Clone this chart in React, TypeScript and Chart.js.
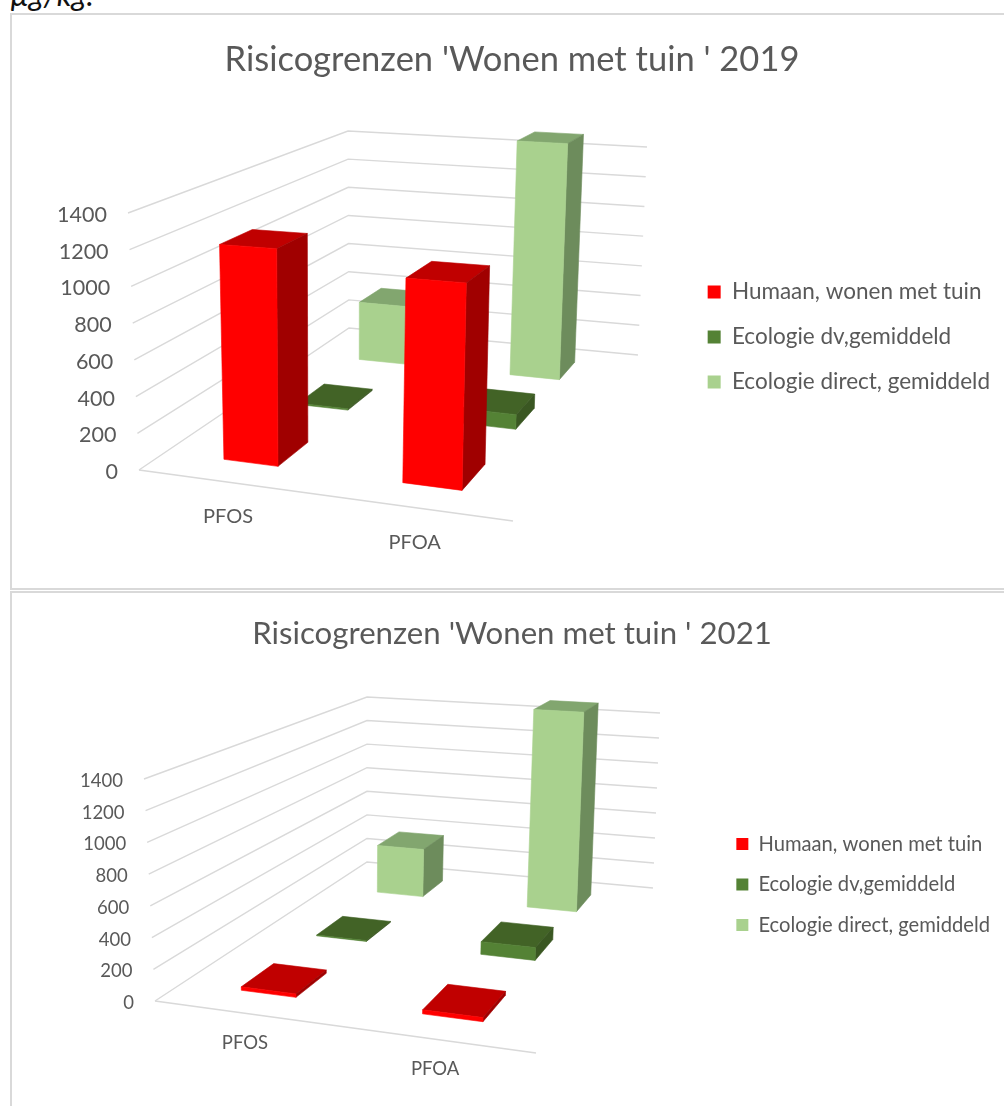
import React, { useEffect, useRef } from "react";
import { Chart, registerables, BarController } from "chart.js";

Chart.register(...registerables);

const categories = ["PFOS", "PFOA"];
const seriesNames = ["Humaan, wonen met tuin", "Ecologie dv,gemiddeld", "Ecologie direct, gemiddeld"];

const humaan2019 = [1190, 1085];
const ecoDv2019 = [8, 85];
const ecoDirect2019 = [380, 1510];

const humaan2021 = [22, 25];
const ecoDv2021 = [6, 87];
const ecoDirect2021 = [368, 1508];

const axisMax = 1400;
const axisStep = 200;

const seriesColors = ["#FF0000", "#548235", "#A9D18E"];
const topColors = ["#C00000", "#426326", "#82A66F"];
const sideColors = ["#A00000", "#3A5722", "#6D8C5C"];

type P = [number, number];
type Box = { floor: P[]; top: P[]; labelDy: number; tickGap: number; tickDy: number; tickFont: number; catFont: number };

// Perspective frame of each chart: corners FL, FR, BR, BL in canvas pixels
const frame2019: Box = {
  floor: [[139, 470], [513, 521], [638, 355], [349, 328]],
  top: [[128, 213], [519, 239], [647, 147], [348, 131]],
  labelDy: 35, tickGap: 21, tickDy: 2, tickFont: 21.5, catFont: 20,
};
const frame2021: Box = {
  floor: [[155, 409], [536, 461], [653, 296], [367, 270]],
  top: [[144, 187], [543, 215], [660, 121], [367, 105]],
  labelDy: 30, tickGap: 21, tickDy: 2, tickFont: 18.5, catFont: 18.5,
};

const halfWidth = 0.078;
const halfDepth = 0.067;
const gridColor = "#D9D9D9";
const textColor = "#595959";
const family = "Lato";

function homography(q: P[]) {
  const [[x0, y0], [x1, y1], [x2, y2], [x3, y3]] = q;
  const dx1 = x1 - x2, dx2 = x3 - x2, sx = x0 - x1 + x2 - x3;
  const dy1 = y1 - y2, dy2 = y3 - y2, sy = y0 - y1 + y2 - y3;
  const det = dx1 * dy2 - dx2 * dy1;
  const g = (sx * dy2 - dx2 * sy) / det;
  const h = (dx1 * sy - sx * dy1) / det;
  const a = x1 - x0 + g * x1, b = x3 - x0 + h * x3;
  const d = y1 - y0 + g * y1, e = y3 - y0 + h * y3;
  return (u: number, v: number): P => {
    const w = g * u + h * v + 1;
    return [(a * u + b * v + x0) / w, (d * u + e * v + y0) / w];
  };
}

function projector(box: Box) {
  const hf = homography(box.floor);
  const ht = homography(box.top);
  return (u: number, v: number, w: number): P => {
    const f = hf(u, v), t = ht(u, v);
    return [f[0] + (t[0] - f[0]) * w, f[1] + (t[1] - f[1]) * w];
  };
}

function quad(ctx: CanvasRenderingContext2D, pts: P[], color: string) {
  ctx.beginPath();
  pts.forEach((p, i) => (i ? ctx.lineTo(p[0], p[1]) : ctx.moveTo(p[0], p[1])));
  ctx.closePath();
  ctx.fillStyle = color;
  ctx.fill();
  ctx.strokeStyle = color;
  ctx.lineWidth = 0.6;
  ctx.stroke();
}

class Bar3DController extends (BarController as any) {
  static id = "bar3d";
  draw() {
    const self = this as any;
    const chart = self.chart;
    const meta = self.getMeta();
    const xs = meta.iScale, ys = meta.vScale;
    const ctx: CanvasRenderingContext2D = chart.ctx;
    const project = projector(chart.options.plugins.frame3d.box);
    const s = self.index;
    const vc = (s + 0.5) / chart.data.datasets.length;
    const norm = (val: number) => (ys.bottom - ys.getPixelForValue(val)) / (ys.bottom - ys.top);
    const w0 = norm(0);
    meta.data.forEach((_: any, i: number) => {
      const val = self.getParsed(i).y;
      const w1 = norm(val);
      const uc = (xs.getPixelForValue(i) - xs.left) / xs.width;
      const ul = uc - halfWidth, ur = uc + halfWidth, vf = vc - halfDepth, vb = vc + halfDepth;
      quad(ctx, [project(ul, vf, w1), project(ur, vf, w1), project(ur, vb, w1), project(ul, vb, w1)], topColors[s]);
      quad(ctx, [project(ur, vf, w0), project(ur, vb, w0), project(ur, vb, w1), project(ur, vf, w1)], sideColors[s]);
      quad(ctx, [project(ul, vf, w0), project(ur, vf, w0), project(ur, vf, w1), project(ul, vf, w1)], seriesColors[s]);
    });
  }
}
Chart.register(Bar3DController as any);

const frame3d = {
  id: "frame3d",
  beforeDatasetsDraw(chart: any, _args: any, opts: any) {
    const box: Box = opts.box;
    const project = projector(box);
    const ys = chart.scales.y, xs = chart.scales.x;
    const ctx: CanvasRenderingContext2D = chart.ctx;
    ctx.save();
    ctx.strokeStyle = gridColor;
    ctx.lineWidth = 1.4;
    ys.ticks.forEach((t: any, i: number) => {
      const w = (ys.bottom - ys.getPixelForTick(i)) / (ys.bottom - ys.top);
      const a = project(0, 0, w), b = project(0, 1, w), c = project(1, 1, w);
      ctx.beginPath();
      ctx.moveTo(a[0], a[1]);
      ctx.lineTo(b[0], b[1]);
      ctx.lineTo(c[0], c[1]);
      ctx.stroke();
      ctx.fillStyle = textColor;
      ctx.font = `${box.tickFont}px ${family}`;
      ctx.textAlign = "right";
      ctx.textBaseline = "middle";
      ctx.fillText(t.label, a[0] - box.tickGap, a[1] + box.tickDy);
    });
    const fl = project(0, 0, 0), fr = project(1, 0, 0);
    ctx.beginPath();
    ctx.moveTo(fl[0], fl[1]);
    ctx.lineTo(fr[0], fr[1]);
    ctx.stroke();
    xs.ticks.forEach((t: any, i: number) => {
      const p = project((xs.getPixelForTick(i) - xs.left) / xs.width, 0, 0);
      ctx.fillStyle = textColor;
      ctx.font = `${box.catFont}px ${family}`;
      ctx.textAlign = "center";
      ctx.textBaseline = "middle";
      ctx.fillText(t.label, p[0] + 2, p[1] + box.labelDy);
    });
    ctx.restore();
  },
};

function Panel(props: {
  title: string; series: number[][]; box: Box; top: number; height: number;
  titleSize: number; titleTop: number; titleBottom: number; legendFont: number; legendGap: number; legendBox: number;
  pad: { left: number; right: number; bottom: number };
}) {
  const ref = useRef<HTMLCanvasElement>(null);
  useEffect(() => {
    const chart = new Chart(ref.current!, {
      type: "bar3d" as any,
      data: {
        labels: categories,
        datasets: props.series.map((data, i) => ({
          label: seriesNames[i], data, backgroundColor: seriesColors[i], borderWidth: 0, clip: false,
        })),
      },
      options: {
        responsive: false,
        animation: false,
        layout: { padding: props.pad },
        scales: {
          x: { ticks: { display: false }, grid: { display: false }, border: { display: false } },
          y: {
            min: 0, max: axisMax,
            ticks: { display: false, stepSize: axisStep, callback: (v: any) => String(v) },
            grid: { display: false }, border: { display: false },
          },
        },
        plugins: {
          frame3d: { box: props.box },
          title: {
            display: true, text: props.title, color: textColor,
            font: { family, size: props.titleSize, weight: "normal" },
            padding: { top: props.titleTop, bottom: props.titleBottom },
          },
          legend: {
            position: "right",
            maxWidth: 420,
            labels: {
              boxWidth: props.legendBox, boxHeight: props.legendBox, padding: props.legendGap, color: textColor,
              font: { family, size: props.legendFont },
            },
          },
          tooltip: { enabled: false },
        },
      } as any,
      plugins: [frame3d as any],
    });
    return () => chart.destroy();
  }, []);
  return (
    <canvas
      ref={ref}
      width={1004}
      height={props.height}
      style={{ position: "absolute", left: 0, top: props.top, width: 1004, height: props.height }}
    />
  );
}

export default function App() {
  return (
    <div style={{ position: "absolute", left: 0, top: 0, width: 1004, height: 1106, overflow: "hidden", background: "#fff" }}>
      <div style={{ position: "absolute", left: 10, top: -25, font: "italic 31px Lato", color: "#111" }}>µg/kg.</div>
      <div style={{ position: "absolute", left: 10, top: 13, width: 1010, height: 577, border: "2px solid #D9D9D9", boxSizing: "border-box" }} />
      <div style={{ position: "absolute", left: 10, top: 591, width: 1010, height: 530, border: "2px solid #D9D9D9", boxSizing: "border-box" }} />
      <Panel
        title="Risicogrenzen 'Wonen met tuin ' 2019"
        series={[humaan2019, ecoDv2019, ecoDirect2019]}
        box={frame2019} top={0} height={592}
        titleSize={34.5} titleTop={39} titleBottom={20} legendFont={22.5} legendGap={22.5} legendBox={13}
        pad={{ left: 24, right: 4, bottom: -82 }}
      />
      <Panel
        title="Risicogrenzen 'Wonen met tuin ' 2021"
        series={[humaan2021, ecoDv2021, ecoDirect2021]}
        box={frame2021} top={592} height={514}
        titleSize={31.2} titleTop={23} titleBottom={20} legendFont={20.2} legendGap={20.3} legendBox={12}
        pad={{ left: 24, right: 4, bottom: -71 }}
      />
    </div>
  );
}
